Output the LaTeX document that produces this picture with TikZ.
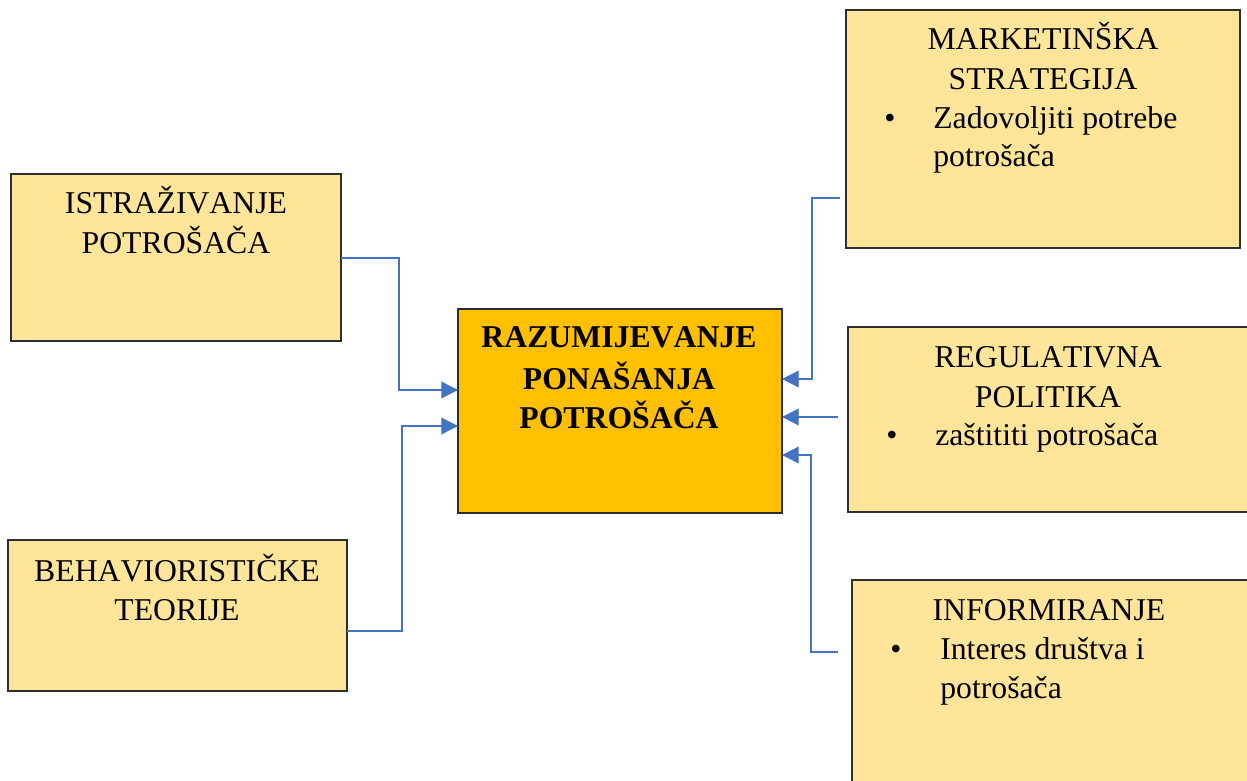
\documentclass[tikz,border=0pt]{standalone}
\usepackage{fontspec}
\setmainfont{Liberation Serif}[Kerning=Off]
\usetikzlibrary{arrows.meta}
\definecolor{lightgold}{HTML}{FFE599}
\definecolor{gold}{HTML}{FFC000}
\definecolor{conblue}{HTML}{4472C4}
\definecolor{edge}{HTML}{2E2E2E}
\tikzset{
  boxbase/.style={draw=edge, line width=1.1pt, anchor=north west, inner sep=0pt, outer sep=0pt},
  lbox/.style={boxbase, fill=lightgold},
  cbox/.style={boxbase, fill=gold},
  txt/.style={anchor=base, inner sep=0pt, font=\fontsize{23.8pt}{28.5pt}\selectfont},
  btxt/.style={txt, font=\fontsize{23.8pt}{28.5pt}\selectfont\bfseries},
  itxt/.style={txt, anchor=base west},
  conn/.style={draw=conblue, line width=1pt, -{Triangle[length=12.5pt,width=12.5pt]}}
}
\begin{document}
\begin{tikzpicture}[x=0.75pt, y=-0.75pt]
\clip (0,0) rectangle (1247,781);
\fill[white] (0,0) rectangle (1247,781);
% boxes
\node[lbox, minimum width=330*0.75pt, minimum height=167*0.75pt] (ist) at (11,174) {};
\node[lbox, minimum width=339*0.75pt, minimum height=151*0.75pt] (beh) at (8,540) {};
\node[cbox, minimum width=324*0.75pt, minimum height=204*0.75pt] (cen) at (458,309) {};
\node[lbox, minimum width=394*0.75pt, minimum height=238*0.75pt] (mkt) at (846,10) {};
\node[lbox, minimum width=410*0.75pt, minimum height=185*0.75pt] (reg) at (848,327) {};
\node[lbox, minimum width=410*0.75pt, minimum height=215*0.75pt] (inf) at (852,580) {};
% texts
\node[txt] (ist1) at (176,214) {ISTRAŽIVANJE};
\node[txt] (ist2) at (176,253) {POTROŠAČA};
\node[txt] (beh1) at (177,581) {BEHAVIORISTIČKE};
\node[txt] (beh2) at (177,620) {TEORIJE};
\node[btxt] (cen1) at (619,348) {RAZUMIJEVANJE};
\node[btxt] (cen2) at (619,389) {PONAŠANJA};
\node[btxt] (cen3) at (619,428) {POTROŠAČA};
\node[txt] (mkt1) at (1043,50) {MARKETINŠKA};
\node[txt] (mkt2) at (1043,90) {STRATEGIJA};
\node[txt] (mktb) at (890,129) {•};
\node[itxt] (mkt3) at (933,129) {Zadovoljiti potrebe};
\node[itxt] (mkt4) at (933,167) {potrošača};
\node[txt] (reg1) at (1048,368) {REGULATIVNA};
\node[txt] (reg2) at (1048,407) {POLITIKA};
\node[txt] (regb) at (892,445) {•};
\node[itxt] (reg3) at (935,445) {zaštititi potrošača};
\node[txt] (inf1) at (1049,620) {INFORMIRANJE};
\node[txt] (infb) at (896,659) {•};
\node[itxt] (inf2) at (940,659) {Interes društva i};
\node[itxt] (inf3) at (940,698) {potrošača};
% connectors
\draw[conn] (ist.east |- 0,258) -| (399,390) -- (cen.west |- 0,390);
\draw[conn] (beh.east |- 0,631) -| (402,426) -- (cen.west |- 0,426);
\draw[conn, shorten <=4.5pt] (mkt.west |- 0,198) -| (812,379) -- (cen.east |- 0,379);
\draw[conn, shorten <=7.5pt] (reg.west |- 0,417) -- (cen.east |- 0,417);
\draw[conn, shorten <=10.5pt] (inf.west |- 0,652) -| (811,455) -- (cen.east |- 0,455);
\end{tikzpicture}
\end{document}
